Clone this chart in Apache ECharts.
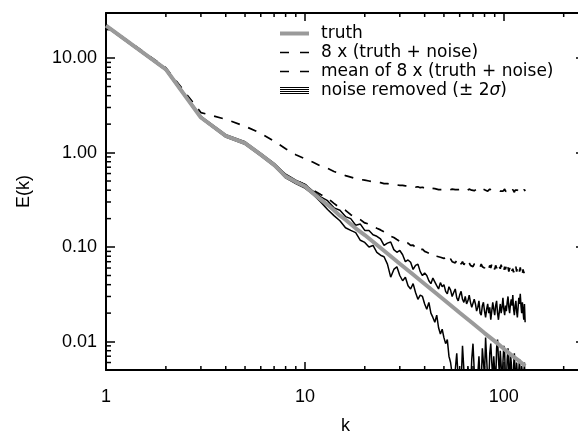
<!DOCTYPE html>
<html><head><meta charset="utf-8">
<script src="https://cdn.jsdelivr.net/npm/echarts@6/dist/echarts.min.js"></script>
<style>html,body{margin:0;padding:0;background:#fff}#c{width:578px;height:432px}</style>
</head><body><div id="c"></div><script>
const kValues = [1,2,3,4,5,6,7,8,9,10,11,12,13,14,15,16,17,18,19,20,21,22,23,24,25,26,27,28,29,30,31,32,33,34,35,36,37,38,39,40,41,42,43,44,45,46,47,48,49,50,51,52,53,54,55,56,57,58,59,60,61,62,63,64,65,66,67,68,69,70,71,72,73,74,75,76,77,78,79,80,81,82,83,84,85,86,87,88,89,90,91,92,93,94,95,96,97,98,99,100,101,102,103,104,105,106,107,108,109,110,111,112,113,114,115,116,117,118,119,120,121,122,123,124,125,126,127,128];

const truthK = [1,2,3,4,5,6,7,8,9,10,11,12,13,14,15,16,18,20,25,30,35,40,45,50,60,70,80,90,100,110,120,128];
const truthE = [22,7.6,2.35,1.5,1.26,0.95,0.74,0.56,0.49,0.44,0.37,0.32,0.28,0.245,0.215,0.195,0.158,0.134,0.0913,0.0667,0.0512,0.0407,0.0332,0.0277,0.0202,0.0155,0.0123,0.0101,0.0084,0.0071,0.0062,0.0055];

const noisySum = [22.3,7.9,2.65,2.25,1.9,1.6,1.32,1.1,0.95,0.86,0.79,0.72,0.68,0.63,0.6,0.57,0.55,0.53,0.52,0.51,0.5,0.49,0.485,0.48,0.47,0.47,0.46,0.46,0.455,0.45,0.45,0.445,0.44,0.44,0.435,0.43,0.435,0.425,0.43,0.42,0.425,0.415,0.42,0.41,0.415,0.41,0.405,0.415,0.405,0.41,
0.405,0.41,0.40,0.405,0.41,0.40,0.405,0.395,0.405,0.40,0.41,0.395,0.40,0.405,0.395,0.40,0.41,0.395,0.40,0.405,0.395,0.40,0.41,0.395,0.40,0.405,0.39,0.40,0.41,0.395,0.40,0.405,0.39,0.40,0.41,0.395,0.40,0.39,0.405,0.40,0.39,0.405,0.40,0.395,0.41,0.39,0.40,0.405,0.39,0.40,0.41,0.39,0.395,0.405,0.385,0.40,0.41,0.39,0.40,0.385,0.405,0.395,0.38,0.40,0.41,0.385,0.40,0.39,0.405,0.38,0.40,0.39,0.41,0.385,0.40,0.38,0.405,0.39];

const noisyMean = [22,7.65,2.38,1.52,1.28,0.97,0.76,0.58,0.51,0.46,0.4,0.36,0.33,0.29,0.26,0.245,0.22,0.205,0.195,0.18,0.175,0.165,0.158,0.152,0.145,0.14,0.13,0.126,0.12,0.115,0.114,0.108,0.11,0.104,0.105,0.098,0.1,0.093,0.095,0.09,0.088,0.086,0.087,0.082,0.084,0.08,0.082,0.078,0.079,0.076,
0.074,0.078,0.071,0.075,0.07,0.073,0.068,0.072,0.067,0.071,0.066,0.07,0.065,0.069,0.066,0.063,0.068,0.064,0.067,0.062,0.066,0.063,0.068,0.062,0.065,0.061,0.066,0.062,0.064,0.06,0.065,0.061,0.063,0.059,0.064,0.06,0.066,0.059,0.062,0.058,0.064,0.06,0.063,0.057,0.062,0.059,0.065,0.058,0.061,0.056,0.062,0.058,0.064,0.057,0.061,0.055,0.06,0.057,0.063,0.056,0.059,0.054,0.06,0.056,0.062,0.055,0.058,0.053,0.059,0.055,0.061,0.054,0.057,0.052,0.058,0.053,0.056,0.052];

const removedUpper = [22.5,7.8,2.42,1.55,1.3,0.98,0.77,0.59,0.51,0.46,
0.39,0.34,0.31,0.26,0.245,0.21,0.2,0.17,0.175,0.15,
0.15,0.135,0.13,0.122,0.104,0.11,0.113,0.094,0.088,0.092,
0.083,0.07,0.073,0.069,0.058,0.064,0.066,0.055,0.05,0.053,
0.05,0.044,0.041,0.047,0.045,0.039,0.036,0.042,0.038,0.04,
0.034,0.032,0.038,0.035,0.03,0.033,0.036,0.029,0.027,0.031,
0.034,0.028,0.026,0.03,0.025,0.027,0.031,0.026,0.023,0.024,
0.028,0.025,0.021,0.023,0.027,0.02,0.019,0.024,0.026,0.021,
0.018,0.022,0.025,0.02,0.023,0.017,0.021,0.026,0.022,0.019,
0.024,0.027,0.02,0.017,0.021,0.025,0.02,0.023,0.029,0.022,
0.019,0.024,0.021,0.026,0.03,0.023,0.02,0.025,0.028,0.024,
0.031,0.022,0.019,0.024,0.027,0.021,0.018,0.023,0.029,0.025,
0.032,0.024,0.02,0.026,0.021,0.017,0.025,0.016];

const removedLower = [21.5,7.4,2.3,1.46,1.22,0.92,0.72,0.54,0.47,0.42,
0.36,0.3,0.25,0.215,0.19,0.16,0.15,0.142,0.118,0.112,
0.1,0.104,0.088,0.082,0.079,0.066,0.048,0.058,0.062,0.05,
0.044,0.048,0.039,0.036,0.041,0.033,0.028,0.031,0.03,0.025,
0.022,0.026,0.02,0.018,0.016,0.019,0.014,0.012,0.0135,0.011,
0.0095,0.0105,0.007,0.006,0.0045,0.0035,0.005,0.0075,0.004,0.003,
0.0035,0.009,0.005,0.0035,0.003,0.0055,0.004,0.003,0.0065,0.0095,
0.005,0.0035,0.003,0.0045,0.007,0.004,0.0035,0.0085,0.006,0.0045,
0.011,0.0065,0.004,0.0035,0.0075,0.0095,0.006,0.004,0.007,0.005,
0.0035,0.0085,0.0105,0.0065,0.0045,0.008,0.0055,0.0035,0.006,0.009,
0.0075,0.004,0.0035,0.0065,0.0085,0.005,0.004,0.0075,0.006,0.0035,
0.003,0.0055,0.0075,0.0045,0.0035,0.006,0.0045,0.003,0.005,0.0065,
0.004,0.003,0.0055,0.0045,0.003,0.0045,0.006,0.0035];

const xMajorTicks = [1,10,100];
const xMinorTicks = [2,3,4,5,6,7,8,9,20,30,40,50,60,70,80,90,200];
const yMajorTicks = [0.01,0.1,1,10];
const yMinorTicks = [0.006,0.007,0.008,0.009,0.02,0.03,0.04,0.05,0.06,0.07,0.08,0.09,0.2,0.3,0.4,0.5,0.6,0.7,0.8,0.9,2,3,4,5,6,7,8,9,20];

const X_MIN = 1, X_MAX = 256, Y_MIN = 0.005, Y_MAX = 30;
const NAMES = ['truth','8 x (truth + noise)','mean of 8 x (truth + noise)','noise removed (± 2σ)'];
const FONT = 'Liberation Sans';
const GRAY = '#9a9a9a';

const pairs = (xs, ys) => xs.map((x, i) => [x, ys[i]]);
const chart = echarts.init(document.getElementById('c'), null, {renderer: 'canvas'});

const axisCommonX = (pos, showLabel) => ({
  type: 'log', logBase: 10, min: X_MIN, max: X_MAX, position: pos,
  axisLine: {show: true, lineStyle: {color: '#000', width: 2}},
  axisTick: {show: true, inside: true, length: 8, lineStyle: {color: '#000', width: 1.5}},
  axisLabel: {show: showLabel, color: '#000', fontFamily: FONT, fontSize: 18, margin: 18,
    formatter: v => xMajorTicks.some(t => Math.abs(t - v) < 1e-9) ? String(v) : ''},
  splitLine: {show: false}, minorTick: {show: false}
});
const axisCommonY = (pos, showLabel) => ({
  type: 'log', logBase: 10, min: Y_MIN, max: Y_MAX, position: pos,
  axisLine: {show: true, lineStyle: {color: '#000', width: 2}},
  axisTick: {show: true, inside: true, length: 9, lineStyle: {color: '#000', width: 1.5}},
  axisLabel: {show: showLabel, color: '#000', fontFamily: FONT, fontSize: 18, margin: 9,
    formatter: v => yMajorTicks.some(t => Math.abs(t - v) < 1e-9) ? v.toFixed(2) : ''},
  splitLine: {show: false}, minorTick: {show: false}
});

const xAxes = [Object.assign(axisCommonX('bottom', true), {name: 'k', nameLocation: 'middle', nameGap: 47,
  nameTextStyle: {color: '#000', fontFamily: FONT, fontSize: 18}}), axisCommonX('top', false)];
const yAxes = [Object.assign(axisCommonY('left', true), {name: 'E(k)', nameLocation: 'middle', nameGap: 73,
  nameTextStyle: {color: '#000', fontFamily: FONT, fontSize: 18}}), axisCommonY('right', false)];

const minorX = {
  type: 'custom', name: 'xminor', xAxisIndex: 0, yAxisIndex: 0, clip: false, silent: true,
  data: xMinorTicks.map(v => [v, Y_MIN]),
  renderItem: (params, api) => {
    const v = api.value(0);
    const b = api.coord([v, Y_MIN]), t = api.coord([v, Y_MAX]);
    const st = {stroke: '#000', lineWidth: 1.5};
    return {type: 'group', children: [
      {type: 'line', shape: {x1: b[0], y1: b[1], x2: b[0], y2: b[1] - 4}, style: st},
      {type: 'line', shape: {x1: t[0], y1: t[1], x2: t[0], y2: t[1] + 4}, style: st}
    ]};
  }
};
const minorY = {
  type: 'custom', name: 'yminor', xAxisIndex: 0, yAxisIndex: 0, clip: false, silent: true,
  data: yMinorTicks.map(v => [X_MIN, v]),
  renderItem: (params, api) => {
    const v = api.value(1);
    const l = api.coord([X_MIN, v]), r = api.coord([X_MAX, v]);
    const st = {stroke: '#000', lineWidth: 1.5};
    return {type: 'group', children: [
      {type: 'line', shape: {x1: l[0], y1: l[1], x2: l[0] + 5, y2: l[1]}, style: st},
      {type: 'line', shape: {x1: r[0], y1: r[1], x2: r[0] - 5, y2: r[1]}, style: st}
    ]};
  }
};

const lineBase = {type: 'line', xAxisIndex: 0, yAxisIndex: 0, symbol: 'none', showSymbol: false, clip: true, animation: false, silent: true};

chart.setOption({
  animation: false,
  backgroundColor: '#fff',
  grid: {left: 106, right: -7, top: 13, bottom: 62, containLabel: false, outerBoundsMode: 'none'},
  xAxis: xAxes,
  yAxis: yAxes,
  legend: {
    orient: 'vertical', left: 280, top: 24, padding: 0, itemGap: 0,
    itemWidth: 29, itemHeight: 7, selectedMode: false, symbolKeepAspect: true,
    data: [
      {name: NAMES[0], icon: 'path://M0,0H29V4H0Z'},
      {name: NAMES[1], icon: 'path://M0,0H9V1.6H0Z M20,0H29V1.6H20Z'},
      {name: NAMES[2], icon: 'path://M0,0H9V1.6H0Z M20,0H29V1.6H20Z'},
      {name: NAMES[3], icon: 'path://M0,0H29V1H0Z M0,2H29V3H0Z M0,4H29V5H0Z M0,6H29V7H0Z'}
    ],
    formatter: n => n === NAMES[3] ? 'noise removed (± 2{i|σ})' : n,
    textStyle: {color: '#000', fontFamily: 'DejaVu Sans', fontSize: 17, lineHeight: 19, padding: [0, 0, 0, 7],
      rich: {i: {fontStyle: 'italic', fontFamily: 'DejaVu Sans', fontSize: 17, lineHeight: 19, color: '#000'}}}
  },
  series: [
    minorX, minorY,
    Object.assign({}, lineBase, {name: NAMES[1], data: pairs(kValues, noisySum),
      lineStyle: {color: '#000', width: 1.7, type: [9, 9]}, itemStyle: {color: '#000'}}),
    Object.assign({}, lineBase, {name: NAMES[2], data: pairs(kValues, noisyMean),
      lineStyle: {color: '#000', width: 1.7, type: [9, 9]}, itemStyle: {color: '#000'}}),
    Object.assign({}, lineBase, {name: NAMES[3], data: pairs(kValues, removedUpper),
      lineStyle: {color: '#000', width: 1.5}, itemStyle: {color: '#000'}}),
    Object.assign({}, lineBase, {name: NAMES[3], data: pairs(kValues, removedLower),
      lineStyle: {color: '#000', width: 1.5}, itemStyle: {color: '#000'}}),
    Object.assign({}, lineBase, {name: NAMES[0], data: pairs(truthK, truthE),
      lineStyle: {color: GRAY, width: 4}, itemStyle: {color: GRAY}})
  ]
});
</script></body></html>
